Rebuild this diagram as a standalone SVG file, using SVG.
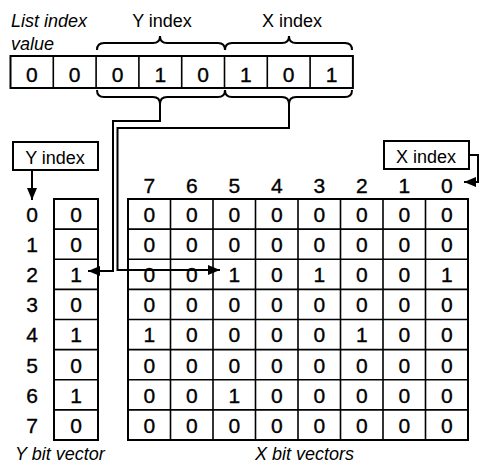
<svg xmlns="http://www.w3.org/2000/svg" width="480" height="463" viewBox="0 0 480 463">
<style>
text{font-family:"Liberation Sans",Arial,sans-serif;fill:#000}
.lbl{font-size:18px}
.it{font-size:18px;font-style:italic}
.d{font-size:21px;text-anchor:middle;stroke:#000;stroke-width:0.35}
.c{text-anchor:middle}
.box{fill:#fff;stroke:#000;stroke-width:2}
.grid{fill:none;stroke:#000;stroke-width:1.6}
.ln{fill:none;stroke:#000;stroke-width:2}
</style>
<defs>
<marker id="ah" viewBox="0 0 12 10" refX="12" refY="5" markerWidth="12" markerHeight="10" markerUnits="userSpaceOnUse" orient="auto">
<path d="M0,0 L12,5 L0,10 Z" fill="#000"/>
</marker>
</defs>

<g id="title-labels">
<text class="it" x="11" y="27">List index</text>
<text class="it" x="11" y="50">value</text>
<text class="lbl c" x="162" y="27">Y index</text>
<text class="lbl c" x="292" y="27">X index</text>
</g>

<g id="list-index-value">
<rect class="box" x="10.5" y="56" width="342.4" height="32"/>
<path class="grid" d="M53.3,56V88M96.1,56V88M138.9,56V88M181.7,56V88M224.5,56V88M267.3,56V88M310.1,56V88"/>
<text class="d" x="31.9" y="82">0</text>
<text class="d" x="74.7" y="82">0</text>
<text class="d" x="117.5" y="82">0</text>
<text class="d" x="160.3" y="82">1</text>
<text class="d" x="203.1" y="82">0</text>
<text class="d" x="245.9" y="82">1</text>
<text class="d" x="288.7" y="82">0</text>
<text class="d" x="331.5" y="82">1</text>
</g>

<g id="braces">
<path class="ln" d="M97,50 Q97,43 104,43 L153,43 Q160,43 160,36 Q160,43 167,43 L218,43 Q225,43 225,50"/>
<path class="ln" d="M225,50 Q225,43 232,43 L282,43 Q289,43 289,36 Q289,43 296,43 L345,43 Q352,43 352,50"/>
<path class="ln" d="M97,90 Q97,97 104,97 L153,97 Q160,97 160,104 Q160,97 167,97 L218,97 Q225,97 225,90"/>
<path class="ln" d="M225,90 Q225,97 232,97 L282,97 Q289,97 289,104 Q289,97 296,97 L345,97 Q352,97 352,90"/>
</g>

<g id="y-index-box">
<rect class="box" x="13" y="142" width="85" height="28"/>
<text class="lbl c" x="55" y="164">Y index</text>
</g>

<g id="x-index-box">
<rect class="box" x="384" y="141" width="85" height="28"/>
<text class="lbl c" x="426" y="163">X index</text>
</g>

<g id="y-bit-vector">
<rect class="box" x="54" y="199" width="44" height="241"/>
<path class="grid" d="M54,229.1H98M54,259.3H98M54,289.4H98M54,319.5H98M54,349.6H98M54,379.8H98M54,409.9H98"/>
<g class="d">
<text class="d" x="76" y="222">0</text>
<text class="d" x="76" y="252">0</text>
<text class="d" x="76" y="282">1</text>
<text class="d" x="76" y="312">0</text>
<text class="d" x="76" y="342">1</text>
<text class="d" x="76" y="373">0</text>
<text class="d" x="76" y="403">1</text>
<text class="d" x="76" y="433">0</text>
</g>
<text class="d" x="32" y="222">0</text>
<text class="d" x="32" y="252">1</text>
<text class="d" x="32" y="282">2</text>
<text class="d" x="32" y="312">3</text>
<text class="d" x="32" y="342">4</text>
<text class="d" x="32" y="373">5</text>
<text class="d" x="32" y="403">6</text>
<text class="d" x="32" y="433">7</text>
<text class="it" x="15" y="460">Y bit vector</text>
</g>

<g id="x-bit-vectors">
<rect class="box" x="128" y="199" width="340" height="241"/>
<path class="grid" d="M170.5,199V440M213,199V440M255.5,199V440M298,199V440M340.5,199V440M383,199V440M425.5,199V440M128,229.1H468M128,259.3H468M128,289.4H468M128,319.5H468M128,349.6H468M128,379.8H468M128,409.9H468"/>
<text class="d" x="149.3" y="193">7</text>
<text class="d" x="191.8" y="193">6</text>
<text class="d" x="234.3" y="193">5</text>
<text class="d" x="276.8" y="193">4</text>
<text class="d" x="319.3" y="193">3</text>
<text class="d" x="361.8" y="193">2</text>
<text class="d" x="404.3" y="193">1</text>
<text class="d" x="446.8" y="193">0</text>
<!-- row 0 -->
<text class="d" x="149.3" y="222">0</text><text class="d" x="191.8" y="222">0</text><text class="d" x="234.3" y="222">0</text><text class="d" x="276.8" y="222">0</text><text class="d" x="319.3" y="222">0</text><text class="d" x="361.8" y="222">0</text><text class="d" x="404.3" y="222">0</text><text class="d" x="446.8" y="222">0</text>
<!-- row 1 -->
<text class="d" x="149.3" y="252">0</text><text class="d" x="191.8" y="252">0</text><text class="d" x="234.3" y="252">0</text><text class="d" x="276.8" y="252">0</text><text class="d" x="319.3" y="252">0</text><text class="d" x="361.8" y="252">0</text><text class="d" x="404.3" y="252">0</text><text class="d" x="446.8" y="252">0</text>
<!-- row 2 -->
<text class="d" x="149.3" y="282">0</text><text class="d" x="191.8" y="282">0</text><text class="d" x="234.3" y="282">1</text><text class="d" x="276.8" y="282">0</text><text class="d" x="319.3" y="282">1</text><text class="d" x="361.8" y="282">0</text><text class="d" x="404.3" y="282">0</text><text class="d" x="446.8" y="282">1</text>
<!-- row 3 -->
<text class="d" x="149.3" y="312">0</text><text class="d" x="191.8" y="312">0</text><text class="d" x="234.3" y="312">0</text><text class="d" x="276.8" y="312">0</text><text class="d" x="319.3" y="312">0</text><text class="d" x="361.8" y="312">0</text><text class="d" x="404.3" y="312">0</text><text class="d" x="446.8" y="312">0</text>
<!-- row 4 -->
<text class="d" x="149.3" y="342">1</text><text class="d" x="191.8" y="342">0</text><text class="d" x="234.3" y="342">0</text><text class="d" x="276.8" y="342">0</text><text class="d" x="319.3" y="342">0</text><text class="d" x="361.8" y="342">1</text><text class="d" x="404.3" y="342">0</text><text class="d" x="446.8" y="342">0</text>
<!-- row 5 -->
<text class="d" x="149.3" y="373">0</text><text class="d" x="191.8" y="373">0</text><text class="d" x="234.3" y="373">0</text><text class="d" x="276.8" y="373">0</text><text class="d" x="319.3" y="373">0</text><text class="d" x="361.8" y="373">0</text><text class="d" x="404.3" y="373">0</text><text class="d" x="446.8" y="373">0</text>
<!-- row 6 -->
<text class="d" x="149.3" y="403">0</text><text class="d" x="191.8" y="403">0</text><text class="d" x="234.3" y="403">1</text><text class="d" x="276.8" y="403">0</text><text class="d" x="319.3" y="403">0</text><text class="d" x="361.8" y="403">0</text><text class="d" x="404.3" y="403">0</text><text class="d" x="446.8" y="403">0</text>
<!-- row 7 -->
<text class="d" x="149.3" y="433">0</text><text class="d" x="191.8" y="433">0</text><text class="d" x="234.3" y="433">0</text><text class="d" x="276.8" y="433">0</text><text class="d" x="319.3" y="433">0</text><text class="d" x="361.8" y="433">0</text><text class="d" x="404.3" y="433">0</text><text class="d" x="446.8" y="433">0</text>
<text class="it" x="255" y="460">X bit vectors</text>
</g>

<g id="connectors">
<path class="ln" d="M160,104 V121 H113 V271 H88" marker-end="url(#ah)"/>
<path class="ln" d="M289,104 V128 H117.5 V270 H220" marker-end="url(#ah)"/>
<path class="ln" d="M32,170 V200" marker-end="url(#ah)"/>
<path class="ln" d="M469,155 H478 V182 H464" marker-end="url(#ah)"/>
</g>
</svg>
